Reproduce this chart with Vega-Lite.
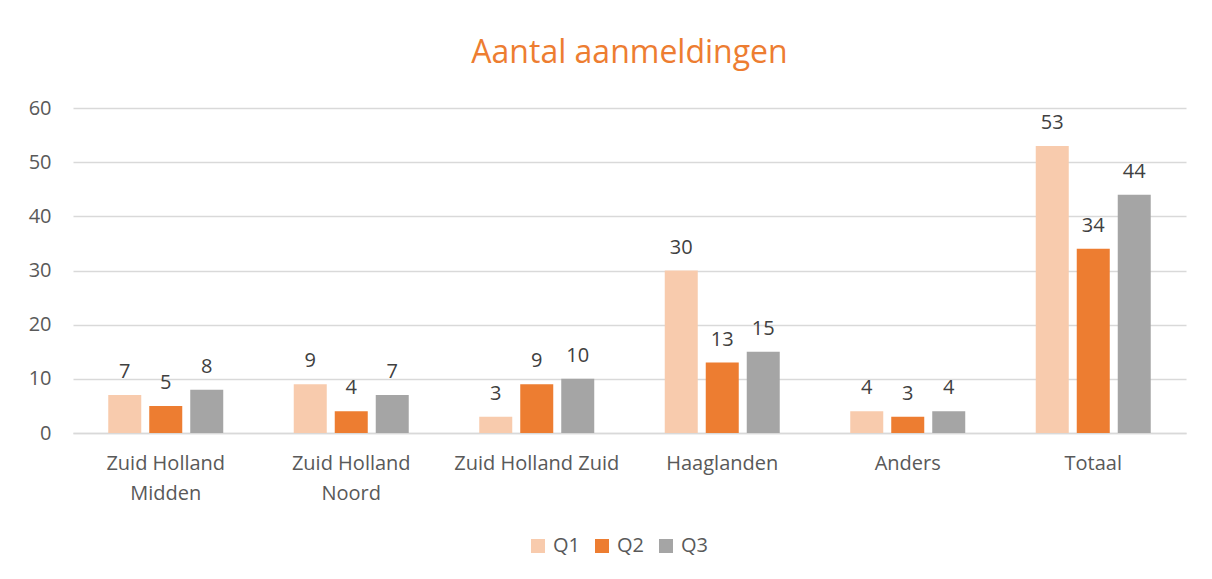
{
  "$schema": "https://vega.github.io/schema/vega-lite/v6.json",
  "autosize": {"type": "none"},
  "width": 1113,
  "height": 325,
  "padding": {"left": 73, "top": 108, "right": 26, "bottom": 146},
  "background": "white",
  "title": {
    "text": "Aantal aanmeldingen",
    "color": "#ED7D31",
    "font": "Open Sans",
    "fontSize": 32,
    "fontWeight": "normal",
    "anchor": "middle",
    "offset": 28
  },
  "data": {
    "values": [
      {"regio": "Zuid Holland Midden", "kwartaal": "Q1", "aantal": 7},
      {"regio": "Zuid Holland Midden", "kwartaal": "Q2", "aantal": 5},
      {"regio": "Zuid Holland Midden", "kwartaal": "Q3", "aantal": 8},
      {"regio": "Zuid Holland Noord", "kwartaal": "Q1", "aantal": 9},
      {"regio": "Zuid Holland Noord", "kwartaal": "Q2", "aantal": 4},
      {"regio": "Zuid Holland Noord", "kwartaal": "Q3", "aantal": 7},
      {"regio": "Zuid Holland Zuid", "kwartaal": "Q1", "aantal": 3},
      {"regio": "Zuid Holland Zuid", "kwartaal": "Q2", "aantal": 9},
      {"regio": "Zuid Holland Zuid", "kwartaal": "Q3", "aantal": 10},
      {"regio": "Haaglanden", "kwartaal": "Q1", "aantal": 30},
      {"regio": "Haaglanden", "kwartaal": "Q2", "aantal": 13},
      {"regio": "Haaglanden", "kwartaal": "Q3", "aantal": 15},
      {"regio": "Anders", "kwartaal": "Q1", "aantal": 4},
      {"regio": "Anders", "kwartaal": "Q2", "aantal": 3},
      {"regio": "Anders", "kwartaal": "Q3", "aantal": 4},
      {"regio": "Totaal", "kwartaal": "Q1", "aantal": 53},
      {"regio": "Totaal", "kwartaal": "Q2", "aantal": 34},
      {"regio": "Totaal", "kwartaal": "Q3", "aantal": 44}
    ]
  },
  "encoding": {
    "x": {
      "field": "regio",
      "type": "nominal",
      "sort": null,
      "scale": {"paddingInner": 0.337, "paddingOuter": 0.1685},
      "axis": {
        "title": null,
        "labelAngle": 0,
        "labelFont": "Open Sans",
        "labelFontSize": 20,
        "labelColor": "#595959",
        "labelPadding": 20,
        "labelLineHeight": 30,
        "labelExpr": "datum.value == 'Zuid Holland Midden' ? ['Zuid Holland', 'Midden'] : datum.value == 'Zuid Holland Noord' ? ['Zuid Holland', 'Noord'] : datum.value",
        "domainColor": "#D9D9D9",
        "domainWidth": 1.5,
        "ticks": false,
        "grid": false
      }
    },
    "xOffset": {
      "field": "kwartaal",
      "type": "nominal",
      "scale": {"paddingInner": 0.195, "paddingOuter": 0.0975}
    },
    "y": {
      "field": "aantal",
      "type": "quantitative",
      "scale": {"domain": [0, 60], "nice": false},
      "axis": {
        "title": null,
        "values": [0, 10, 20, 30, 40, 50, 60],
        "labelFont": "Open Sans",
        "labelFontSize": 20,
        "labelColor": "#595959",
        "labelPadding": 22,
        "domain": false,
        "ticks": false,
        "gridColor": "#D9D9D9",
        "gridWidth": 1.3
      }
    }
  },
  "layer": [
    {
      "mark": {"type": "bar"},
      "encoding": {
        "color": {
          "field": "kwartaal",
          "type": "nominal",
          "scale": {"domain": ["Q1", "Q2", "Q3"], "range": ["#F8CBAD", "#ED7D31", "#A5A5A5"]},
          "legend": {
            "title": null,
            "orient": "none",
            "legendX": 455,
            "legendY": 428,
            "padding": 0,
            "direction": "horizontal",
            "symbolType": "square",
            "symbolSize": 196,
            "symbolStrokeWidth": 0,
            "labelFont": "Open Sans",
            "labelFontSize": 20,
            "labelColor": "#595959",
            "labelOffset": 5,
            "columnPadding": 12
          }
        }
      }
    },
    {
      "mark": {
        "type": "text",
        "baseline": "alphabetic",
        "dy": -17,
        "font": "Open Sans",
        "fontSize": 20,
        "color": "#404040"
      },
      "encoding": {
        "text": {"field": "aantal", "type": "quantitative"}
      }
    }
  ],
  "config": {
    "view": {"stroke": null}
  }
}
